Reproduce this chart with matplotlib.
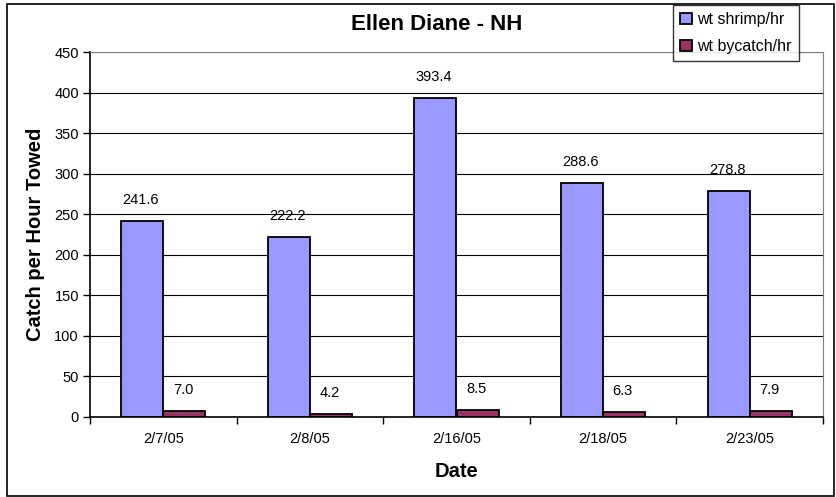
import matplotlib
matplotlib.use("Agg")
from matplotlib import pyplot as plt
from matplotlib.patches import Rectangle
import numpy as np

dates = ['2/7/05', '2/8/05', '2/16/05', '2/18/05', '2/23/05']
shrimp = [241.6, 222.2, 393.4, 288.6, 278.8]
bycatch = [7.0, 4.2, 8.5, 6.3, 7.9]
series_names = ['wt shrimp/hr', 'wt bycatch/hr']

plt.rcParams['font.family'] = ['Liberation Sans', 'DejaVu Sans']

fig = plt.figure(figsize=(8.36, 4.97), dpi=100)
ax = fig.add_axes([90 / 836, 80 / 497, 733 / 836, 365 / 497])

x = np.arange(len(dates))
w = 0.287
b1 = ax.bar(x - w / 2, shrimp, w, color='#9999FF', edgecolor='black', linewidth=1.3,
            label=series_names[0], zorder=3)
b2 = ax.bar(x + w / 2, bycatch, w, color='#993366', edgecolor='black', linewidth=1.3,
            label=series_names[1], zorder=3)

# value labels above bars
for bars in (b1, b2):
    for rect in bars:
        h = rect.get_height()
        ax.annotate(f'{h:.1f}', (rect.get_x() + rect.get_width() / 2, h),
                    xytext=(-1, 15), textcoords='offset points',
                    ha='center', va='center', fontsize=10.5, zorder=4)

ax.set_xlim(-0.5, len(dates) - 0.5)
ax.set_ylim(0, 450)
ax.set_yticks(np.arange(0, 451, 50))
ax.grid(axis='y', color='black', linewidth=0.8, zorder=0)

ax.set_xticks(x)
ax.set_xticklabels(dates, fontsize=10.5)
ax.set_xticks(np.arange(-0.5, len(dates), 1), minor=True)
ax.tick_params(axis='x', which='major', length=0, pad=11)
ax.tick_params(axis='x', which='minor', length=5, direction='out', width=1)
ax.tick_params(axis='y', length=5, direction='out', width=1, labelsize=10.5, pad=3)

for side in ('top', 'right'):
    ax.spines[side].set_color('#808080')
for side in ('left', 'bottom'):
    ax.spines[side].set_color('black')
    ax.spines[side].set_linewidth(1.2)

ax.set_xlabel('Date', fontsize=14.5, fontweight='bold', labelpad=11)
ax.set_ylabel('Catch per Hour Towed', fontsize=14.5, fontweight='bold', labelpad=7)
fig.text(437 / 836, 1 - 25 / 497, 'Ellen Diane - NH', ha='center', va='center',
         fontsize=16, fontweight='bold')

leg = fig.legend(handles=[b1, b2], loc='upper left', bbox_to_anchor=(673 / 836, 1 - 5 / 497),
                 fontsize=11.5, frameon=True, fancybox=False, edgecolor='black',
                 handlelength=0.75, handleheight=0.75, handletextpad=0.3,
                 borderpad=0.45, labelspacing=0.75, borderaxespad=0)
leg.get_frame().set_linewidth(1.0)

# outer chart border
fig.patches.append(Rectangle((7 / 836, 1 / 497), 827 / 836, 492 / 497, transform=fig.transFigure,
                             fill=False, edgecolor='black', linewidth=1.2))

fig.savefig('out.png', dpi=100)
